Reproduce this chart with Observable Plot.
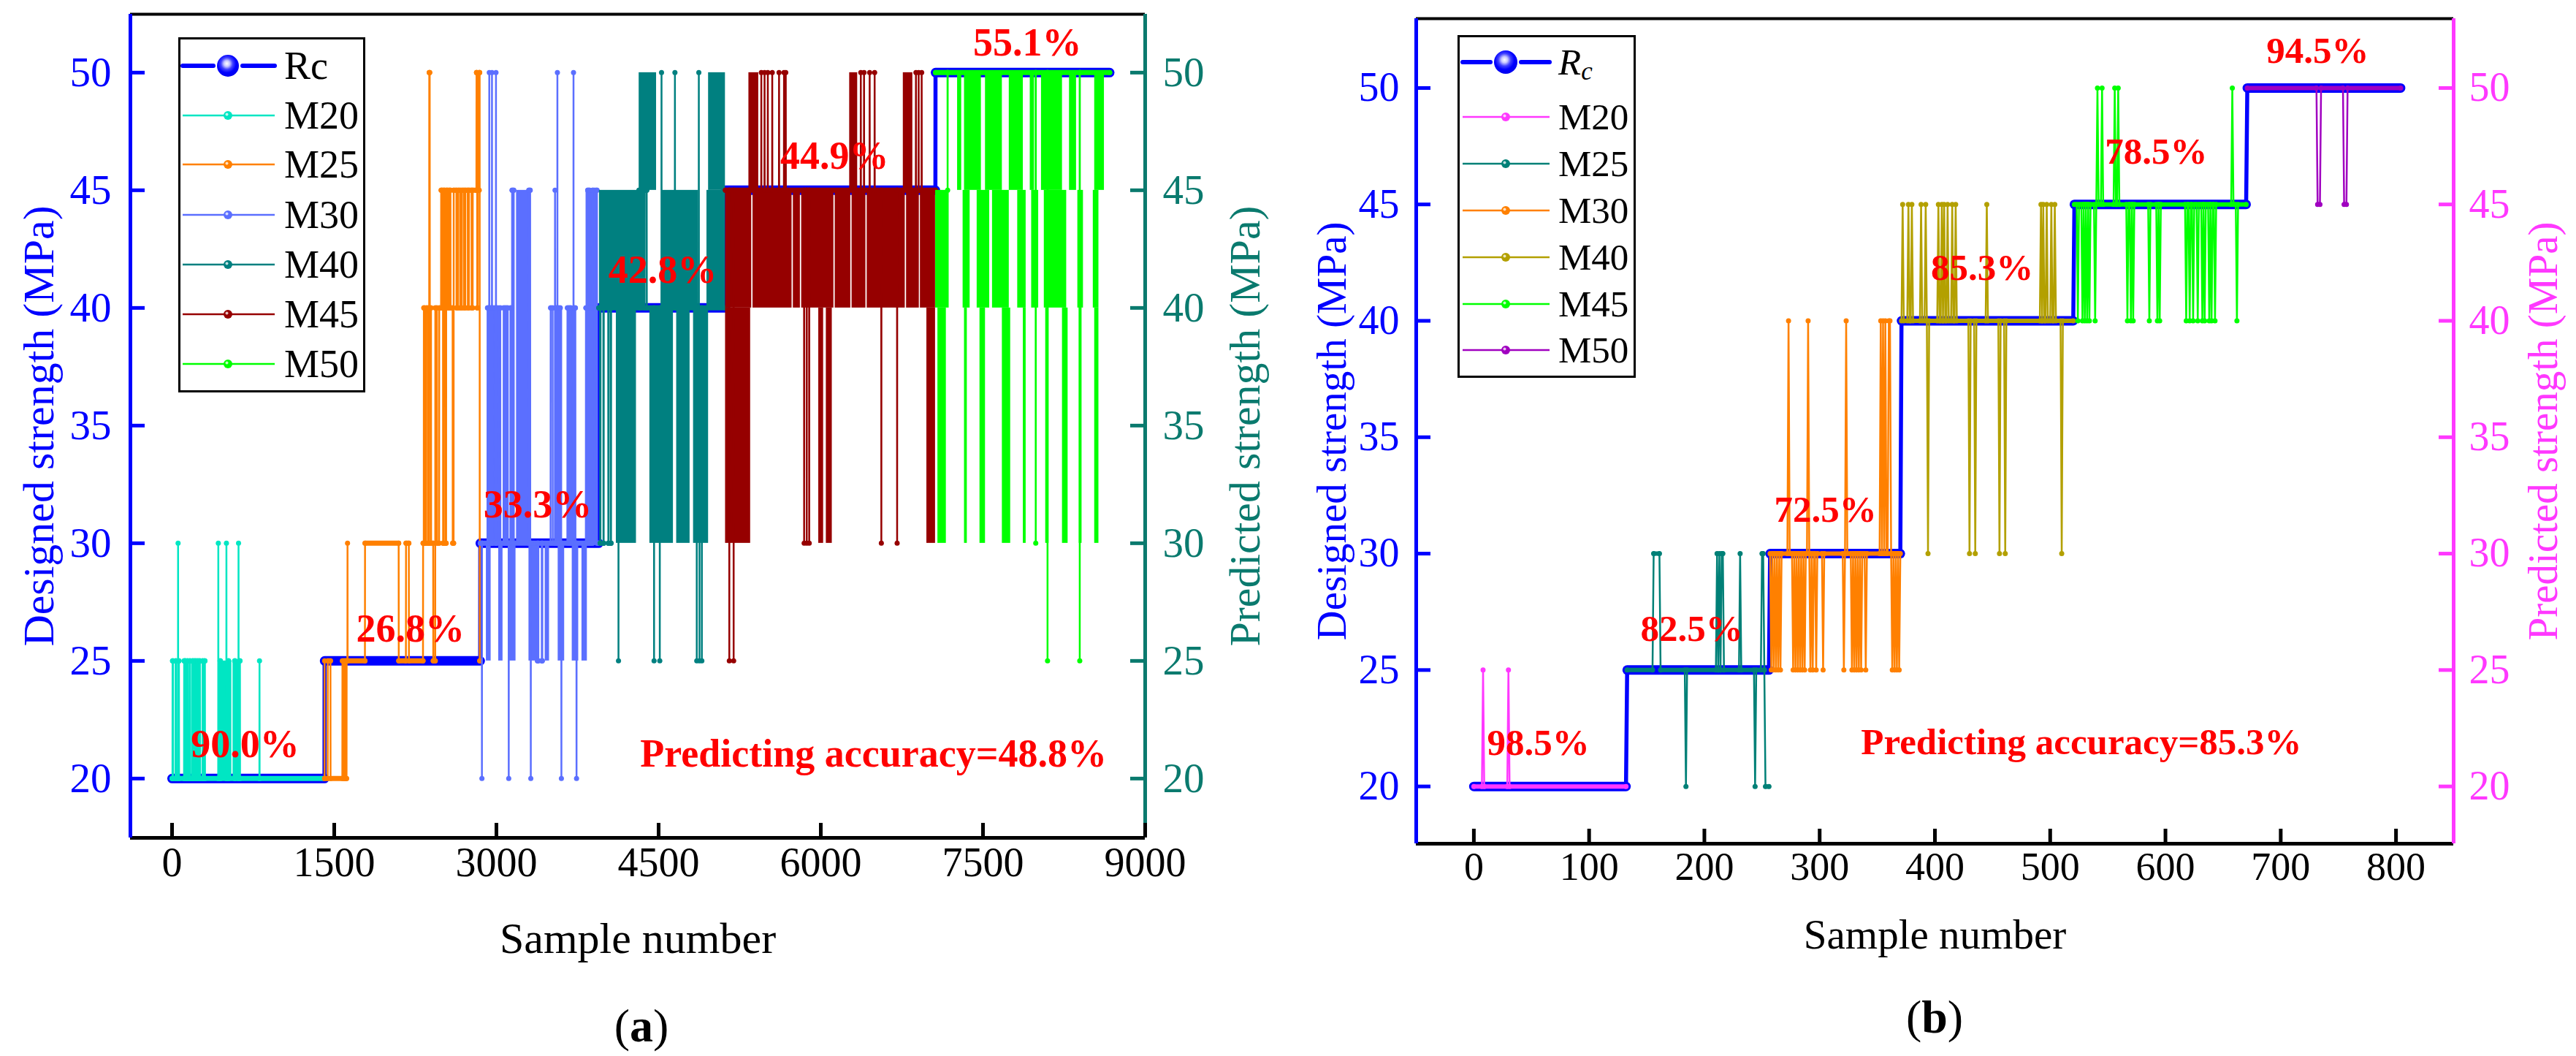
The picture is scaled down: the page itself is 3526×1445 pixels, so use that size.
<!DOCTYPE html>
<html>
<head>
<meta charset="utf-8">
<script src="https://cdn.jsdelivr.net/npm/d3@7"></script>
<script src="https://cdn.jsdelivr.net/npm/@observablehq/plot@0.6"></script>
<style>
  html, body { margin: 0; padding: 0; background: #fff; }
  #root { position: relative; width: 3526px; height: 1445px; overflow: hidden; background: #fff;
          font-family: "Liberation Serif", "Times New Roman", serif; }
  .panel { position: absolute; top: 0; }
  .legend { position: absolute; }
  .cap { position: absolute; transform: translate(-50%, -50%); white-space: nowrap; color: #000; }
</style>
</head>
<body>
<div id="root"></div>
<script>
// ===================== DATA =====================
const strengthTicks = [20, 25, 30, 35, 40, 45, 50];
const seriesNames = ["M20", "M25", "M30", "M40", "M45", "M50"];
const leftTitle = "Designed strength (MPa)";
const rightTitle = "Predicted strength (MPa)";
const xTitle = "Sample number";

// ---- panel (a) ----
const aSampleTicks = [0, 1500, 3000, 4500, 6000, 7500, 9000];
const aLevel = [20, 25, 30, 40, 45, 50];            // designed strength Rc
const aLevelStart = [0, 1411, 2851, 3947, 5118, 7061];
const aLevelEnd = [1410, 2850, 3946, 5117, 7060, 8672];
// events: [firstSample, lastSample, predicted value]
const aM20Events = [[5,9,25],[33,37,25],[56,56,30],[60,64,25],[112,116,25],[124,127,25],[142,146,25],[164,167,25],[187,190,25],[203,206,25],[219,222,25],[237,241,25],[255,258,25],[282,285,25],[300,304,25],[428,428,30],[445,447,25],[503,503,30],[520,523,25],[580,583,25],[615,615,30],[625,628,25],[809,809,25]];
const aM25Events = [[1411,1440,20],[1466,1575,20],[1590,1598,20],[1606,1614,20],[1623,1623,30],[1785,2096,30],[2164,2190,30],[2322,2328,30],[2329,2334,40],[2335,2350,30],[2351,2368,40],[2369,2378,30],[2379,2383,50],[2384,2395,40],[2396,2415,30],[2435,2450,40],[2451,2470,30],[2471,2488,40],[2489,2498,45],[2499,2506,40],[2507,2511,30],[2512,2520,45],[2521,2528,40],[2529,2535,30],[2536,2548,45],[2549,2562,40],[2563,2575,45],[2576,2595,40],[2596,2604,30],[2605,2630,45],[2631,2645,40],[2646,2665,45],[2666,2680,40],[2681,2700,45],[2701,2712,40],[2713,2735,45],[2736,2745,40],[2746,2770,45],[2771,2780,40],[2781,2815,45],[2816,2818,50],[2819,2822,45],[2823,2826,40],[2827,2840,45],[2841,2845,50]];
const aM30Events = [[2866,2866,20],[2918,2925,40],[2934,2934,50],[2940,2950,40],[2959,2959,50],[2966,2990,40],[2996,2996,50],[3005,3036,40],[3067,3080,40],[3092,3105,40],[3114,3114,20],[3130,3142,40],[3145,3160,45],[3300,3312,45],[3318,3318,20],[3380,3386,25],[3420,3424,25],[3502,3520,40],[3542,3542,45],[3548,3556,40],[3564,3564,50],[3575,3590,40],[3601,3601,20],[3657,3670,40],[3680,3690,40],[3713,3713,50],[3720,3730,40],[3741,3741,20],[3828,3840,40],[3845,3860,45],[3870,3880,40],[3890,3930,45]];
const aM40Events = [[3960,3962,30],[3990,3992,30],[4035,4037,30],[4058,4060,30],[4129,4129,25],[4319,4330,45],[4372,4390,45],[4458,4458,25],[4511,4511,25],[4527,4527,50],[4651,4651,50],[4853,4853,25],[4872,4872,50],[4878,4878,25],[4900,4900,25]];
const aM45Events = [[5154,5154,25],[5194,5194,25],[5450,5450,50],[5480,5480,50],[5510,5510,50],[5551,5551,50],[5614,5614,50],[5660,5660,50],[5676,5676,50],[5846,5846,30],[5870,5870,30],[5893,5893,30],[6370,6370,50],[6400,6400,50],[6452,6452,50],[6498,6498,50],[6560,6560,30],[6706,6706,30],[6880,6880,50],[6905,6905,50],[6933,6933,50]];
const aM50Events = [[7173,7173,45],[7988,7988,30],[8097,8097,25],[8395,8395,25]];
// dense bands where the prediction alternates too fast to resolve: [first, last, low, high]
const aM20Bands = [[428,552,20,25],[563,631,20,25]];
const aM25Bands = [[2815,2850,45,50]];
const aM30Bands = [[2906,2950,25,30],[2934,3036,30,40],[3020,3060,25,30],[3120,3180,25,30],[3185,3310,30,45],[3300,3400,25,30],[3450,3490,25,30],[3540,3611,30,40],[3570,3630,25,30],[3673,3729,30,40],[3700,3760,25,30],[3790,3840,25,30],[3828,3937,30,45]];
const aM40Bands = [[3952,4372,40,45],[4527,4868,40,45],[4946,5117,40,45],[4319,4480,45,50],[4961,5117,45,50],[4108,4294,30,40],[4418,4636,30,40],[4666,4790,30,40],[4822,4961,30,40]];
const aM45Bands = [[5118,5360,40,45],[5372,5733,40,45],[5745,5810,40,45],[5822,6120,40,45],[6132,6276,40,45],[6288,6416,40,45],[6428,6780,40,45],[6792,6910,40,45],[6920,7060,40,45],[5334,5425,45,50],[6266,6340,45,50],[6762,6850,45,50],[5118,5350,30,40],[5980,6025,30,40],[6050,6105,30,40],[6980,7060,30,40]];
const aM50Bands = [[7061,7186,40,45],[7082,7160,30,40],[7264,7302,45,50],[7328,7484,45,50],[7522,7678,45,50],[7742,7872,45,50],[7936,7975,45,50],[8040,8234,45,50],[8299,8364,45,50],[8532,8622,45,50],[7315,7380,40,45],[7445,7561,40,45],[7587,7742,40,45],[7820,7898,40,45],[7949,8014,40,45],[8066,8273,40,45],[8376,8428,40,45],[8519,8571,40,45],[7328,7354,30,40],[7471,7522,30,40],[7678,7755,30,40],[7872,7898,30,40],[8079,8110,30,40],[8234,8286,30,40],[8389,8415,30,40],[8532,8571,30,40]];
const aAccText = ["90.0%", "26.8%", "33.3%", "42.8%", "44.9%", "55.1%", "Predicting accuracy=48.8%"];
const aAccX = [676, 2204, 3381, 4538, 6127, 7911, 6487];
const aAccY = [21.46, 26.37, 31.65, 41.6, 46.46, 51.25, 21.05];

// ---- panel (b) ----
const bSampleTicks = [0, 100, 200, 300, 400, 500, 600, 700, 800];
const bLevel = [20, 25, 30, 40, 45, 50];
const bLevelStart = [0, 133, 257, 371, 521, 671];
const bLevelEnd = [132, 256, 370, 520, 670, 804];
const bM20Events = [[8,8,25],[30,30,25]];
const bM25Events = [[156,161,30],[184,184,20],[211,211,30],[213,213,30],[215,216,30],[231,231,30],[244,244,20],[250,251,30],[253,256,20]];
const bM30Events = [[258,258,25],[260,260,25],[262,262,25],[264,264,25],[266,266,25],[273,273,40],[277,277,25],[279,279,25],[281,281,25],[283,283,25],[285,285,25],[287,287,25],[290,290,40],[292,292,25],[294,294,25],[297,297,25],[303,303,25],[321,321,25],[323,323,40],[328,328,25],[330,330,25],[332,332,25],[334,334,25],[336,336,25],[340,340,25],[353,353,40],[355,355,40],[357,357,40],[360,361,40],[363,363,25],[365,365,25],[367,367,25],[369,369,25]];
const bM40Events = [[372,372,45],[377,377,45],[380,380,45],[388,388,45],[392,392,45],[394,394,30],[403,403,45],[406,406,45],[408,408,45],[411,411,45],[415,415,45],[418,418,45],[430,430,30],[435,435,30],[445,445,45],[456,456,30],[461,461,30],[492,492,45],[494,494,45],[497,497,45],[501,501,45],[504,504,45],[510,510,30]];
const bM45Events = [[524,524,40],[528,528,40],[530,530,40],[532,532,40],[534,534,40],[539,539,40],[541,541,50],[545,545,50],[556,556,50],[559,559,50],[567,567,40],[570,570,40],[572,572,40],[586,586,40],[593,593,40],[595,595,40],[618,618,40],[621,621,40],[624,624,40],[628,628,40],[632,632,40],[634,634,40],[638,638,40],[640,640,40],[643,643,40],[658,658,50],[662,662,40]];
const bM50Events = [[732,734,45],[755,757,45]];
const bAccText = ["98.5%", "82.5%", "72.5%", "85.3%", "78.5%", "94.5%", "Predicting accuracy=85.3%"];
const bAccX = [56, 189, 305, 441, 592, 732, 527];
const bAccY = [21.87, 26.77, 31.87, 42.28, 47.25, 51.6, 21.9];

// ===================== STYLE / LAYOUT =====================
const FONT = "Liberation Serif, Times New Roman, serif";
const RC = "#0000ff";
const panels = [
  {
    id: "a", left: 0, width: 1763, height: 1445, mL: 178, mR: 196, mT: 19, mB: 299,
    xDomain: [-385, 9000], yDomain: [17.48, 52.48], xTicks: aSampleTicks,
    level: aLevel, start: aLevelStart, end: aLevelEnd,
    events: [aM20Events, aM25Events, aM30Events, aM40Events, aM45Events, aM50Events],
    bands: [aM20Bands, aM25Bands, aM30Bands, aM40Bands, aM45Bands, aM50Bands],
    colors: ["#00e6c3", "#ff8000", "#5b6fff", "#008080", "#960000", "#00ff00"],
    rightColor: "#0a7a6e",
    accText: aAccText, accX: aAccX, accY: aAccY,
    tickFont: 57, xTickFont: 56, titleFont: 60, accFont: 54,
    yLabDx: 26, yLabDxR: 24, xLabDy: 52, leftTitleDx: -125, rightTitleDx: 137, xTitleDy: 157,
    runW: 7, rcW: 13, dotR: 3.5,
    legend: { x: 244, y: 51, w: 256, h: 486, rows: [39, 107, 174, 243, 311, 379, 447], lx0: 6, lx1: 132, mx: 68, tx: 145, font: 54, ballR: 15, italicRc: false },
    cap: { x: 878, y: 1404, text: "a" }
  },
  {
    id: "b", left: 1763, width: 1763, height: 1445, mL: 175, mR: 168, mT: 25, mB: 291,
    xDomain: [-50, 850], yDomain: [17.54, 52.98], xTicks: bSampleTicks,
    level: bLevel, start: bLevelStart, end: bLevelEnd,
    events: [bM20Events, bM25Events, bM30Events, bM40Events, bM45Events, bM50Events],
    bands: [[], [], [], [], [], []],
    colors: ["#ff38ff", "#008077", "#ff8000", "#b3a000", "#00ff00", "#a000c0"],
    rightColor: "#ff38ff",
    accText: bAccText, accX: bAccX, accY: bAccY,
    tickFont: 56, xTickFont: 54, titleFont: 57, accFont: 51,
    yLabDx: 23, yLabDxR: 21, xLabDy: 49, leftTitleDx: -115, rightTitleDx: 123, xTitleDy: 143,
    runW: 6, rcW: 13, dotR: 3.5,
    legend: { x: 1995, y: 48, w: 244, h: 469, rows: [37, 112, 176, 240, 304, 368, 431], lx0: 7, lx1: 126, mx: 66, tx: 138, font: 51, ballR: 16, italicRc: true },
    cap: { x: 2648, y: 1392, text: "b" }
  }
];

// ===================== HELPERS =====================
function buildSeries(start, end, base, events) {
  const pts = [[start, base]];
  let last = start, atBase = true;
  for (const [s, e, v] of events) {
    if (s > last + 1) {
      if (!atBase) pts.push([last + 1, base]);
      pts.push([s - 1, base]);
    }
    pts.push([s, v]);
    if (e > s) pts.push([e, v]);
    last = e; atBase = false;
  }
  if (!atBase && last < end) pts.push([last + 1, base]);
  if (pts[pts.length - 1][0] < end) pts.push([end, base]);
  return pts;
}
function runsOf(pts) {
  const r = [];
  for (let i = 1; i < pts.length; i++) {
    if (pts[i][1] === pts[i - 1][1] && pts[i][0] > pts[i - 1][0]) r.push([pts[i - 1][0], pts[i][0], pts[i][1]]);
  }
  return r;
}

const root = document.getElementById("root");

for (const P of panels) {
  const innerW = P.width - P.mL - P.mR;
  const innerH = P.height - P.mT - P.mB;
  const marks = [];

  // designed strength Rc (step line)
  const rcPts = [], rcRuns = [];
  P.level.forEach((v, i) => { rcPts.push([P.start[i], v], [P.end[i], v]); rcRuns.push([P.start[i], P.end[i], v]); });
  marks.push(Plot.line(rcPts, { x: d => d[0], y: d => d[1], stroke: RC, strokeWidth: 5.5 }));
  marks.push(Plot.link(rcRuns, { x1: d => d[0], x2: d => d[1], y1: d => d[2], y2: d => d[2], stroke: RC, strokeWidth: P.rcW, strokeLinecap: "round" }));

  // predicted series
  P.level.forEach((base, i) => {
    const color = P.colors[i];
    const pts = buildSeries(P.start[i], P.end[i], base, P.events[i]);
    if (P.bands[i].length) {
      marks.push(Plot.rect(P.bands[i], { x1: d => d[0], x2: d => d[1], y1: d => d[2], y2: d => d[3], fill: color }));
    }
    marks.push(Plot.line(pts, { x: d => d[0], y: d => d[1], stroke: color, strokeWidth: 2.5, strokeLinejoin: "miter" }));
    marks.push(Plot.link(runsOf(pts), { x1: d => d[0], x2: d => d[1], y1: d => d[2], y2: d => d[2], stroke: color, strokeWidth: P.runW, strokeLinecap: "round" }));
    marks.push(Plot.dot(pts, { x: d => d[0], y: d => d[1], r: P.dotR, fill: color, stroke: "none" }));
  });

  // accuracy annotations
  marks.push(Plot.text(P.accText, { x: (d, i) => P.accX[i], y: (d, i) => P.accY[i], text: d => d, fill: "#ff0000", fontWeight: "bold", fontSize: P.accFont, fontFamily: FONT }));

  // axes lines
  marks.push(Plot.ruleY([P.yDomain[1]], { stroke: "#000", strokeWidth: 4 }));
  marks.push(Plot.ruleY([P.yDomain[0]], { stroke: "#000", strokeWidth: 5 }));
  marks.push(Plot.ruleX([P.xDomain[0]], { stroke: RC, strokeWidth: 5 }));
  marks.push(Plot.ruleX([P.xDomain[1]], { stroke: P.rightColor, strokeWidth: 5 }));
  // inward ticks
  marks.push(Plot.ruleY(strengthTicks, { y: d => d, insetRight: innerW - 20, stroke: RC, strokeWidth: 5 }));
  marks.push(Plot.ruleY(strengthTicks, { y: d => d, insetLeft: innerW - 20, stroke: P.rightColor, strokeWidth: 5 }));
  marks.push(Plot.ruleX(P.xTicks, { x: d => d, insetTop: innerH - 20, stroke: "#000", strokeWidth: 5 }));
  // tick labels
  marks.push(Plot.text(strengthTicks, { y: d => d, text: d => String(d), frameAnchor: "left", dx: -P.yLabDx, textAnchor: "end", fill: RC, fontSize: P.tickFont, fontFamily: FONT }));
  marks.push(Plot.text(strengthTicks, { y: d => d, text: d => String(d), frameAnchor: "right", dx: P.yLabDxR, textAnchor: "start", fill: P.rightColor, fontSize: P.tickFont, fontFamily: FONT }));
  marks.push(Plot.text(P.xTicks, { x: d => d, text: d => String(d), frameAnchor: "bottom", dy: P.xLabDy, fill: "#000", fontSize: P.xTickFont, fontFamily: FONT }));
  // axis titles
  marks.push(Plot.text([leftTitle], { text: d => d, frameAnchor: "left", textAnchor: "middle", rotate: -90, dx: P.leftTitleDx, fill: RC, fontSize: P.titleFont, fontFamily: FONT }));
  marks.push(Plot.text([rightTitle], { text: d => d, frameAnchor: "right", textAnchor: "middle", rotate: -90, dx: P.rightTitleDx, fill: P.rightColor, fontSize: P.titleFont, fontFamily: FONT }));
  marks.push(Plot.text([xTitle], { text: d => d, frameAnchor: "bottom", textAnchor: "middle", dy: P.xTitleDy, fill: "#000", fontSize: P.titleFont, fontFamily: FONT }));

  const svg = Plot.plot({
    width: P.width, height: P.height,
    marginLeft: P.mL, marginRight: P.mR, marginTop: P.mT, marginBottom: P.mB,
    x: { domain: P.xDomain, axis: null },
    y: { domain: P.yDomain, axis: null },
    style: { fontFamily: FONT, background: "transparent", overflow: "visible" },
    marks
  });
  const holder = document.createElement("div");
  holder.className = "panel";
  holder.style.left = P.left + "px";
  holder.appendChild(svg);
  root.appendChild(holder);

  // legend
  const L = P.legend;
  const gid = "ball" + P.id;
  let s = `<svg width="${L.w}" height="${L.h}" xmlns="http://www.w3.org/2000/svg" style="display:block">
    <defs>
      <radialGradient id="${gid}" cx="0.45" cy="0.4" r="0.6">
        <stop offset="0" stop-color="#ffffff"/><stop offset="0.22" stop-color="#c8c8ff"/>
        <stop offset="0.45" stop-color="#4040ff"/><stop offset="0.7" stop-color="#0000ff"/><stop offset="1" stop-color="#0000ee"/>
      </radialGradient>
    </defs>
    <rect x="1.5" y="1.5" width="${L.w - 3}" height="${L.h - 3}" fill="#fff" stroke="#000" stroke-width="3"/>`;
  const ry = L.rows[0];
  s += `<line x1="${L.lx0}" x2="${L.mx - L.ballR - 5}" y1="${ry}" y2="${ry}" stroke="${RC}" stroke-width="6" stroke-linecap="round"/>`;
  s += `<line x1="${L.mx + L.ballR + 5}" x2="${L.lx1}" y1="${ry}" y2="${ry}" stroke="${RC}" stroke-width="6" stroke-linecap="round"/>`;
  s += `<circle cx="${L.mx}" cy="${ry}" r="${L.ballR}" fill="url(#${gid})"/>`;
  s += L.italicRc
    ? `<text x="${L.tx}" y="${ry}" dominant-baseline="central" font-family="${FONT}" font-size="${L.font}"><tspan font-style="italic">R</tspan><tspan font-style="italic" font-size="${Math.round(L.font * 0.68)}" dy="12">c</tspan></text>`
    : `<text x="${L.tx}" y="${ry}" dominant-baseline="central" font-family="${FONT}" font-size="${L.font}">Rc</text>`;
  seriesNames.forEach((name, i) => {
    const y = L.rows[i + 1];
    const c = P.colors[i];
    s += `<line x1="${L.lx0}" x2="${L.lx1}" y1="${y}" y2="${y}" stroke="${c}" stroke-width="2.5"/>`;
    s += `<circle cx="${L.mx}" cy="${y}" r="6" fill="${c}"/><circle cx="${L.mx - 1.5}" cy="${y - 1.5}" r="2" fill="#fff" opacity="0.75"/>`;
    s += `<text x="${L.tx}" y="${y}" dominant-baseline="central" font-family="${FONT}" font-size="${L.font}">${name}</text>`;
  });
  s += `</svg>`;
  const lg = document.createElement("div");
  lg.className = "legend";
  lg.style.left = L.x + "px";
  lg.style.top = L.y + "px";
  lg.innerHTML = s;
  root.appendChild(lg);

  // panel caption
  const cap = document.createElement("div");
  cap.className = "cap";
  cap.style.left = P.cap.x + "px";
  cap.style.top = P.cap.y + "px";
  cap.style.fontSize = "64px";
  cap.innerHTML = `(<b>${P.cap.text}</b>)`;
  root.appendChild(cap);
}
</script>
</body>
</html>
